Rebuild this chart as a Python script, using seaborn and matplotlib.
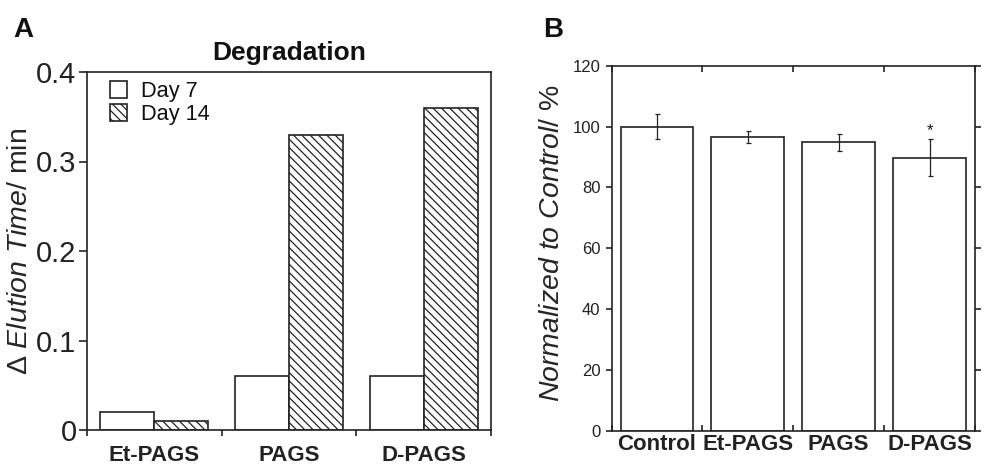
import numpy as np
import pandas as pd
import matplotlib
matplotlib.use("Agg")
import matplotlib.pyplot as plt
from matplotlib.ticker import FixedLocator, FuncFormatter
import seaborn as sns

# ── data ──────────────────────────────────────────────────────────────────────
compounds_a = ["Et-PAGS", "PAGS", "D-PAGS"]
day_labels = ["Day 7", "Day 14"]
day7_shift = [0.02, 0.06, 0.06]
day14_shift = [0.01, 0.33, 0.36]

groups_b = ["Control", "Et-PAGS", "PAGS", "D-PAGS"]
norm_mean = [100.0, 96.7, 94.8, 89.8]
norm_sd = [4.0, 2.0, 2.8, 6.0]
signif = ["", "", "", "*"]

INK = "#222222"

sns.set_theme(style="ticks")
plt.rcParams["font.family"] = ["Liberation Sans", "DejaVu Sans"]
plt.rcParams["mathtext.fontset"] = "custom"
plt.rcParams["mathtext.rm"] = "Liberation Sans"
plt.rcParams["mathtext.it"] = "Liberation Sans:italic"
plt.rcParams["hatch.linewidth"] = 0.9
plt.rcParams["hatch.color"] = INK
plt.rcParams["axes.edgecolor"] = INK
plt.rcParams["xtick.color"] = INK
plt.rcParams["ytick.color"] = INK
plt.rcParams["text.color"] = "#111111"

fig = plt.figure(figsize=(9.86, 4.70), dpi=100)
ax_a = fig.add_axes([87 / 986, 40 / 470, 404 / 986, 358 / 470])
ax_b = fig.add_axes([611.5 / 986, 39 / 470, 363.5 / 986, 365.3 / 470])

# ── panel A ───────────────────────────────────────────────────────────────────
df_a = pd.DataFrame({
    "compound": compounds_a * 2,
    "day": [day_labels[0]] * 3 + [day_labels[1]] * 3,
    "shift": day7_shift + day14_shift,
})
sns.barplot(data=df_a, x="compound", y="shift", hue="day", hue_order=day_labels,
            palette=["white", "white"], edgecolor=INK, linewidth=1.2,
            width=0.8, errorbar=None, legend=False, ax=ax_a)
for bar in ax_a.containers[1]:
    bar.set_hatch("\\" * 4)

ax_a.set_xlim(-0.5, len(compounds_a) - 0.5)
ax_a.set_ylim(0, 0.4)
ax_a.set_yticks([0, 0.1, 0.2, 0.3, 0.4])
ax_a.yaxis.set_major_formatter(FuncFormatter(lambda v, p: "0" if v == 0 else f"{v:.1f}"))
ax_a.tick_params(axis="y", labelsize=21, length=6, width=1.2, pad=1.5, direction="out")
ax_a.xaxis.set_minor_locator(FixedLocator(np.arange(-0.5, len(compounds_a), 1.0)))
ax_a.tick_params(axis="x", which="major", length=0, pad=11)
ax_a.tick_params(axis="x", which="minor", length=4.5, width=1.2, direction="out")
for lab in ax_a.get_xticklabels():
    lab.set_fontsize(16)
    lab.set_fontweight("bold")
for sp in ax_a.spines.values():
    sp.set_linewidth(1.2)
    sp.set_visible(True)
ax_a.set_xlabel("")
ax_a.set_ylabel(r"$\mathit{Δ\ Elution\ Time}$/ min", fontsize=20.5)
ax_a.yaxis.set_label_coords(-0.134, 0.5)
ax_a.set_title("Degradation", fontsize=19, fontweight="bold", pad=8.5)

leg = ax_a.legend(handles=[ax_a.containers[0][0], ax_a.containers[1][0]],
                  labels=day_labels, loc="upper left",
                  bbox_to_anchor=(0.057, 0.975), frameon=False, fontsize=15.7,
                  handlelength=0.8, handleheight=0.8, handletextpad=0.6,
                  labelspacing=0.1, borderpad=0, borderaxespad=0)

# ── panel B ───────────────────────────────────────────────────────────────────
sns.barplot(x=groups_b, y=norm_mean, color="white", edgecolor=INK,
            linewidth=1.2, width=0.8, errorbar=None, ax=ax_b)
xpos = np.arange(len(groups_b))
ax_b.errorbar(xpos, norm_mean, yerr=norm_sd, fmt="none", ecolor=INK,
              elinewidth=0.9, capsize=1.8, capthick=0.9)
for x, m, s, mark in zip(xpos, norm_mean, norm_sd, signif):
    if mark:
        ax_b.annotate(mark, (x, m + s), xytext=(0, 1), textcoords="offset points",
                      ha="center", va="bottom", fontsize=12)

ax_b.set_xlim(-0.5, len(groups_b) - 0.5)
ax_b.set_ylim(0, 120)
ax_b.set_yticks(np.arange(0, 121, 20))
ax_b.tick_params(axis="y", labelsize=12, length=4.3, width=1.2, pad=3.6,
                 direction="out", right=True)
ax_b.xaxis.set_minor_locator(FixedLocator(np.arange(-0.5, len(groups_b), 1.0)))
ax_b.tick_params(axis="x", which="major", length=0, pad=2)
ax_b.tick_params(axis="x", which="minor", length=4.3, width=1.2,
                 direction="in", top=True, bottom=True)
for lab in ax_b.get_xticklabels():
    lab.set_fontsize(16)
    lab.set_fontweight("bold")
for sp in ax_b.spines.values():
    sp.set_linewidth(1.2)
    sp.set_visible(True)
ax_b.set_xlabel("")
ax_b.set_ylabel(r"$\mathit{Normalized\ to\ Control}$/ %", fontsize=20.5)
ax_b.yaxis.set_label_coords(-0.128, 0.515)

# panel letters
fig.text(13 / 986, 1 - 37 / 470, "A", fontsize=20, fontweight="bold", va="baseline")
fig.text(543 / 986, 1 - 37 / 470, "B", fontsize=20, fontweight="bold", va="baseline")

fig.savefig("out.png", dpi=100)
